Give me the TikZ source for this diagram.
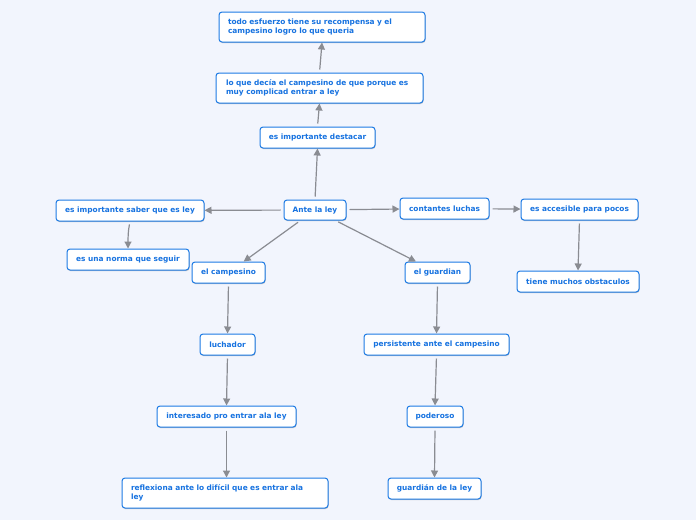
\documentclass[tikz,border=0pt]{standalone}
\usepackage{fontspec}
\setmainfont{DejaVu Sans}
\usetikzlibrary{arrows.meta,shadows}
\definecolor{bgc}{RGB}{242,245,253}
\definecolor{bordc}{RGB}{28,122,228}
\definecolor{txtc}{RGB}{22,114,224}
\definecolor{arrc}{RGB}{138,140,146}
\tikzset{
  box/.style={draw=bordc, fill=white, line width=1pt, rounded corners=3pt,
    text=txtc, font=\fontsize{7.4}{9}\selectfont\bfseries, inner sep=0pt,
    drop shadow={shadow xshift=0.5pt, shadow yshift=-1pt, fill=black, opacity=0.22}},
  wbox/.style={box, align=left, inner ysep=0pt},
  conn/.style={draw=arrc, line width=1.2pt, shorten <=3pt,
    -{Triangle[length=7pt,width=7pt]}}
}
\begin{document}
\begin{tikzpicture}[x=1pt,y=-1pt]
\fill[bgc] (0,0) rectangle (696,520);
\useasboundingbox (0,0) rectangle (696,520);
\node[wbox, text width=188pt, inner xsep=9pt, minimum height=30pt] (todo) at (322,27) {todo esfuerzo tiene su recompensa y el\\campesino logro lo que queria};
\node[wbox, text width=187pt, inner xsep=10pt, minimum height=30pt] (loque) at (319.5,88) {lo que decía el campesino de que porque es\\muy complicad entrar a ley};
\node[box, minimum width=115pt, minimum height=21pt] (dest) at (317.5,137.5) {es importante destacar};
\node[box, minimum width=62pt, minimum height=20pt] (ante) at (315,210) {Ante la ley};
\node[box, minimum width=148pt, minimum height=21pt] (saber) at (130,210.5) {es importante saber que es ley};
\node[box, minimum width=122pt, minimum height=21pt] (norma) at (128,259.5) {es una norma que seguir};
\node[box, minimum width=73pt, minimum height=21pt] (camp) at (228.5,272.5) {el campesino};
\node[box, minimum width=89pt, minimum height=21pt] (luchas) at (444.5,208.5) {contantes luchas};
\node[box, minimum width=117pt, minimum height=21pt] (acc) at (579.5,209.5) {es accesible para pocos};
\node[box, minimum width=122pt, minimum height=21pt] (obst) at (578,281.5) {tiene muchos obstaculos};
\node[box, minimum width=65pt, minimum height=21pt] (guard) at (437.5,272.5) {el guardian};
\node[box, minimum width=55pt, minimum height=21pt] (luch) at (227.5,344.5) {luchador};
\node[box, minimum width=145pt, minimum height=21pt] (pers) at (436.5,344.5) {persistente ante el campesino};
\node[box, minimum width=139pt, minimum height=21pt] (inter) at (226.5,416.5) {interesado pro entrar ala ley};
\node[box, minimum width=56pt, minimum height=21pt] (pod) at (435,416.5) {poderoso};
\node[wbox, text width=188pt, inner xsep=9pt, minimum height=30pt] (refl) at (225,493) {reflexiona ante lo difícil que es entrar ala\\ley};
\node[box, minimum width=93pt, minimum height=21pt] (gley) at (434.5,488.5) {guardián de la ley};
\draw[conn] (ante.north) -- (dest.south);
\draw[conn] (dest.north) -- (loque.south);
\draw[conn] (loque.north) -- (todo.south);
\draw[conn] (ante) -- (saber);
\draw[conn] (saber.south) .. controls +(-2,10) and +(0,-8) .. (norma.north);
\draw[conn] (ante) -- (camp);
\draw[conn] (ante) -- (guard);
\draw[conn] (ante) -- (luchas);
\draw[conn] (luchas) -- (acc);
\draw[conn] (acc.south) -- (obst.north);
\draw[conn] (camp.south) -- (luch.north);
\draw[conn] (luch.south) -- (inter.north);
\draw[conn] (inter.south) -- (inter.south |- refl.north);
\draw[conn] (guard.south) -- (pers.north);
\draw[conn] (pers.south) -- (pod.north);
\draw[conn] (pod.south) -- (gley.north);
\end{tikzpicture}
\end{document}
